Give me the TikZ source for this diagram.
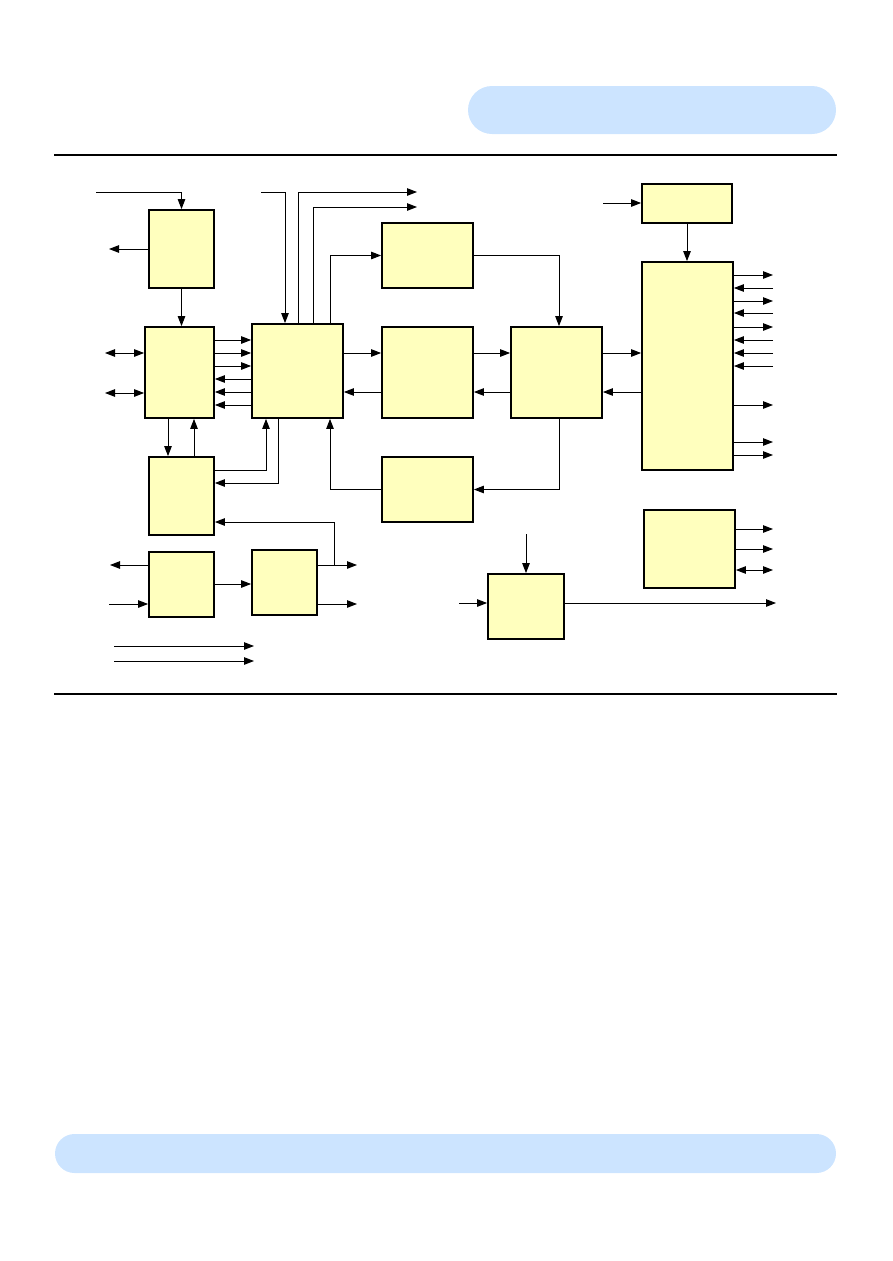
\documentclass[tikz,border=0pt]{standalone}
\usetikzlibrary{arrows.meta,fit}
\definecolor{boxyellow}{RGB}{255,255,190}
\definecolor{pillblue}{RGB}{204,228,255}
\tikzset{
  blk/.style={draw=black, fill=boxyellow, line width=1.8pt, inner sep=0pt, rectangle},
  arr/.style={line width=1pt, -{Triangle[length=10pt,width=7.5pt]}},
  arrboth/.style={line width=1pt, {Triangle[length=10pt,width=7.5pt]}-{Triangle[length=10pt,width=7.5pt]}},
  rulel/.style={line width=2pt},
}
\begin{document}
\begin{tikzpicture}[x=1pt,y=-1pt]
\useasboundingbox (0,0) rectangle (892,1261);
% header / footer
\fill[pillblue, rounded corners=24pt] (468,86) rectangle (836,134);
\draw[rulel] (54,155) -- (837,155);
\draw[rulel] (54,694) -- (837,694);
\fill[pillblue, rounded corners=19.5pt] (55,1134) rectangle (836,1173);

% boxes
\node[blk, fit={(149,210)(214,288)}] (A) {};
\node[blk, fit={(145,327)(214,418)}] (B) {};
\node[blk, fit={(252,324)(343,418)}] (C) {};
\node[blk, fit={(382,223)(473,288)}] (D) {};
\node[blk, fit={(382,327)(473,418)}] (E) {};
\node[blk, fit={(511,327)(602,418)}] (F) {};
\node[blk, fit={(382,457)(473,522)}] (G) {};
\node[blk, fit={(642,262)(733,470)}] (H) {};
\node[blk, fit={(642,184)(732,223)}] (I) {};
\node[blk, fit={(149,457)(214,535)}] (J) {};
\node[blk, fit={(149,552)(214,617)}] (K) {};
\node[blk, fit={(252,550)(317,615)}] (L) {};
\node[blk, fit={(488,574)(564,639)}] (M) {};
\node[blk, fit={(644,510)(735,588)}] (N) {};

% free ends
\coordinate (inA) at (96,192);
\coordinate (oA) at (109,249);
\coordinate (b1) at (105,353);
\coordinate (b2) at (105,393);
\coordinate (inC) at (261,192);
\coordinate (o1) at (417,192);
\coordinate (o2) at (417,207);
\coordinate (inI) at (603,203);
\coordinate (oK) at (110,565);
\coordinate (iK) at (109,604);
\coordinate (oL1) at (357,565);
\coordinate (oL2) at (357,604);
\coordinate (brL) at (334,565);
\coordinate (lg1s) at (114,646);
\coordinate (lg1e) at (254,646);
\coordinate (lg2s) at (114,661);
\coordinate (lg2e) at (254,661);
\coordinate (inMt) at (526,534);
\coordinate (inMl) at (459,603);
\coordinate (oM) at (776,603);

% A
\draw[arr] (inA) -| (A.north);
\draw[arr] (A.west |- oA) -- (oA);
\draw[arr] (A.south) -- (A.south |- B.north);
% B
\draw[arrboth] (b1) -- (B.west |- b1);
\draw[arrboth] (b2) -- (B.west |- b2);
\foreach \yy in {340,353,366} \draw[arr] (B.east |- 0,\yy) -- (C.west |- 0,\yy);
\foreach \yy in {379,392,405} \draw[arr] (C.west |- 0,\yy) -- (B.east |- 0,\yy);
% C
\draw[arr] (inC) -| (C.north -| 285,0);
\draw[arr] (C.north -| 298,0) |- (o1);
\draw[arr] (C.north -| 313,0) |- (o2);
\draw[arr] (C.north -| 330,0) |- (D.west);
\draw[arr] (C.east |- 0,353) -- (E.west |- 0,353);
\draw[arr] (E.west |- 0,392) -- (C.east |- 0,392);
% E, F, D, G
\draw[arr] (E.east |- 0,353) -- (F.west |- 0,353);
\draw[arr] (F.west |- 0,392) -- (E.east |- 0,392);
\draw[arr] (D.east) -| (F.north -| 559,0);
\draw[arr] (F.south -| 559,0) |- (G.east);
\draw[arr] (G.west) -| (C.south -| 330,0);
\draw[arr] (F.east |- 0,353) -- (H.west |- 0,353);
\draw[arr] (H.west |- 0,392) -- (F.east |- 0,392);
% I, H
\draw[arr] (inI) -- (I.west |- inI);
\draw[arr] (I.south) -- (I.south |- H.north);
\foreach \yy in {275,301,327,405,442,455} \draw[arr] (H.east |- 0,\yy) -- (773,\yy);
\foreach \yy in {288,313,340,353,366} \draw[arr] (773,\yy) -- (H.east |- 0,\yy);
% B, J
\draw[arr] (B.south -| 168,0) -- (J.north -| 168,0);
\draw[arr] (J.north -| 194,0) -- (B.south -| 194,0);
\draw[arr] (J.east |- 0,470) -| (C.south -| 266,0);
\draw[arr] (C.south -| 278,0) |- (J.east |- 0,483);
% K, L
\draw[arr] (K.west |- oK) -- (oK);
\draw[arr] (iK) -- (K.west |- iK);
\draw[arr] (K.east |- 0,584) -- (L.west |- 0,584);
\draw[arr] (L.east |- oL1) -- (oL1);
\draw[arr] (L.east |- oL2) -- (oL2);
\draw[arr] (brL) |- (J.east |- 0,522);
% legend lines
\draw[arr] (lg1s) -- (lg1e);
\draw[arr] (lg2s) -- (lg2e);
% M
\draw[arr] (inMt) -- (inMt |- M.north);
\draw[arr] (inMl) -- (M.west |- inMl);
\draw[arr] (M.east |- oM) -- (oM);
% N
\draw[arr] (N.east |- 0,529) -- (773,529);
\draw[arr] (N.east |- 0,549) -- (773,549);
\draw[arrboth] (N.east |- 0,570) -- (773,570);
\end{tikzpicture}
\end{document}
